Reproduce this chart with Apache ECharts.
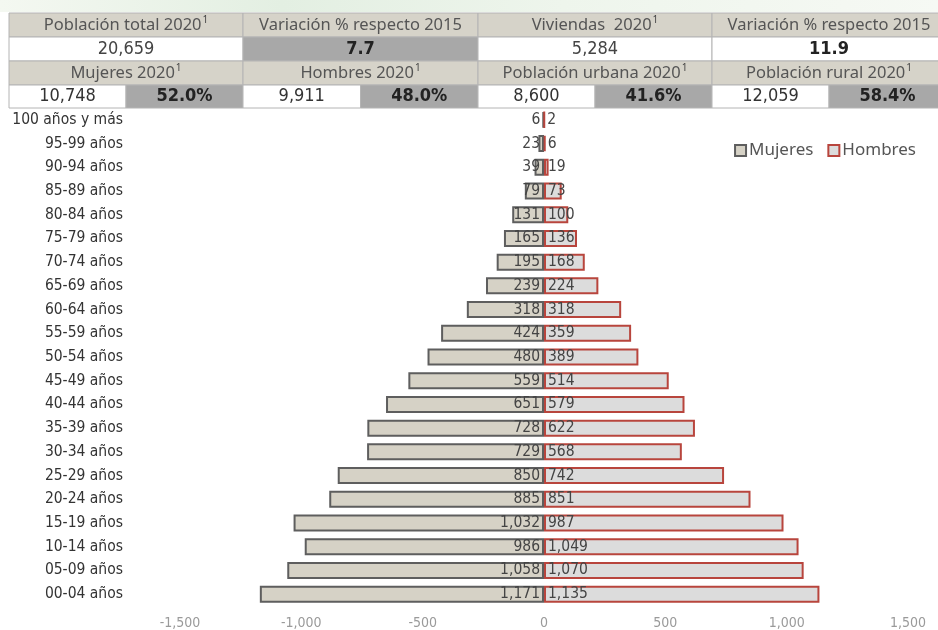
<!DOCTYPE html>
<html>
<head>
<meta charset="utf-8">
<script src="https://cdn.jsdelivr.net/npm/echarts@6/dist/echarts.min.js"></script>
<style>
html, body { margin: 0; padding: 0; background: #fff; }
#main { width: 938px; height: 630px; }
</style>
</head>
<body>
<div id="main"></div>
<script>
// age groups, top to bottom
var ageGroups = ["100 años y más", "95-99 años", "90-94 años", "85-89 años", "80-84 años",
  "75-79 años", "70-74 años", "65-69 años", "60-64 años", "55-59 años", "50-54 años",
  "45-49 años", "40-44 años", "35-39 años", "30-34 años", "25-29 años", "20-24 años",
  "15-19 años", "10-14 años", "05-09 años", "00-04 años"];
var mujeres = [6, 23, 39, 79, 131, 165, 195, 239, 318, 424, 480, 559, 651, 728, 729, 850, 885, 1032, 986, 1058, 1171];
var hombres = [2, 6, 19, 73, 100, 136, 168, 224, 318, 359, 389, 514, 579, 622, 568, 742, 851, 987, 1049, 1070, 1135];
var xTicks = [-1500, -1000, -500, 0, 500, 1000, 1500];

// header table
var topTitles = ["Población total 2020", "Variación % respecto 2015", "Viviendas  2020", "Variación % respecto 2015"];
var topSup = [true, false, true, false];
var topValues = ["20,659", "7.7", "5,284", "11.9"];
var subTitles = ["Mujeres 2020", "Hombres 2020", "Población urbana 2020", "Población rural 2020"];
var subCounts = ["10,748", "9,911", "8,600", "12,059"];
var subPct = ["52.0%", "48.0%", "41.6%", "58.4%"];

var chart = echarts.init(document.getElementById("main"));

var condensed = "'Liberation Sans Narrow', 'DejaVu Sans Condensed', sans-serif";
var headFont = "'Noto Sans', 'Open Sans', sans-serif";
var colX = [9, 243, 478, 712, 946];
var rowY = [13, 37, 61, 85, 108];
var beige = "#d6d3c9";
var grey = "#a8a8a8";

function fmt(v) {
  return Math.abs(v).toLocaleString("en-US");
}

function cell(x, y, w, h, fill, text, style) {
  return {
    type: "rect",
    shape: { x: x, y: y, width: w, height: h },
    style: { fill: fill, stroke: "#b4b4b4", lineWidth: 1 },
    textContent: {
      style: Object.assign({ text: text, fill: "#333", fontFamily: condensed, fontSize: 18 }, style || {})
    },
    textConfig: { position: "inside" }
  };
}

function titleText(t, sup) {
  return sup ? "{t|" + t + "}{s|1}" : "{t|" + t + "}";
}
var titleRich = {
  t: { fontSize: 16.5, fontFamily: headFont, fill: "#555" },
  s: { fontSize: 10, fontFamily: headFont, fill: "#444", padding: [0, 0, 9, 1] }
};

var graphics = [{
  type: "rect",
  shape: { x: 0, y: 0, width: 938, height: 12 },
  style: {
    fill: new echarts.graphic.LinearGradient(0, 0, 1, 0, [
      { offset: 0, color: "#f4f8f1" },
      { offset: 0.3, color: "#e3efe2" },
      { offset: 0.6, color: "#eef5ec" },
      { offset: 1, color: "#f6f9f4" }
    ])
  },
  silent: true
}];

for (var i = 0; i < 4; i++) {
  var x = colX[i], w = colX[i + 1] - colX[i], half = w / 2;
  graphics.push(cell(x, rowY[0], w, rowY[1] - rowY[0], beige, titleText(topTitles[i], topSup[i]), { rich: titleRich }));
  graphics.push(cell(x, rowY[1], w, rowY[2] - rowY[1], i === 1 ? grey : "#fff", topValues[i],
    { fontWeight: i === 1 ? "bold" : (i === 3 ? 600 : "normal"), fill: i === 0 || i === 2 ? "#444" : "#222" }));
  graphics.push(cell(x, rowY[2], w, rowY[3] - rowY[2], beige, titleText(subTitles[i], true), { rich: titleRich }));
  graphics.push(cell(x, rowY[3], half, rowY[4] - rowY[3], "#fff", subCounts[i], { fill: "#333" }));
  graphics.push(cell(x + half, rowY[3], half, rowY[4] - rowY[3], grey, subPct[i], { fontWeight: "bold", fill: "#222" }));
}

var option = {
  animation: false,
  backgroundColor: "#fff",
  graphic: graphics,
  legend: {
    right: 17,
    top: 137,
    icon: "rect",
    itemWidth: 11,
    itemHeight: 11,
    itemGap: 14,
    textStyle: { color: "#555", fontSize: 17, fontFamily: headFont, padding: [0, 0, 0, -2] },
    data: ["Mujeres", "Hombres"]
  },
  grid: { left: 180, right: 30, top: 108, bottom: 20 },
  xAxis: {
    type: "value",
    min: -1500,
    max: 1500,
    interval: 500,
    splitLine: { show: false },
    axisLine: { show: false },
    axisTick: { show: false },
    axisLabel: {
      color: "#9a9a9a",
      fontSize: 14,
      fontFamily: condensed,
      margin: 10,
      customValues: xTicks,
      formatter: function (v) { return v < 0 ? "-" + fmt(v) : fmt(v); }
    }
  },
  yAxis: {
    type: "category",
    inverse: true,
    data: ageGroups,
    axisLine: { show: false },
    axisTick: { show: false },
    axisLabel: { color: "#333", fontSize: 15.5, fontFamily: condensed, margin: 57 }
  },
  series: [
    {
      name: "Mujeres",
      type: "bar",
      barWidth: 17,
      barGap: "-100%",
      data: mujeres.map(function (v) { return -v; }),
      itemStyle: { color: "#d6d2c6", borderColor: "#5e5e5e", borderWidth: 2 },
      label: {
        show: true,
        position: "insideRight",
        distance: 4,
        color: "#444",
        fontSize: 15.5,
        fontFamily: condensed,
        formatter: function (p) { return fmt(p.value); }
      }
    },
    {
      name: "Hombres",
      type: "bar",
      barWidth: 17,
      barGap: "-100%",
      data: hombres,
      itemStyle: { color: "#dcdcdc", borderColor: "#b8453d", borderWidth: 2 },
      label: {
        show: true,
        position: "insideLeft",
        distance: 4,
        color: "#444",
        fontSize: 15.5,
        fontFamily: condensed,
        formatter: function (p) { return fmt(p.value); }
      }
    }
  ]
};

option && chart.setOption(option);
</script>
</body>
</html>
